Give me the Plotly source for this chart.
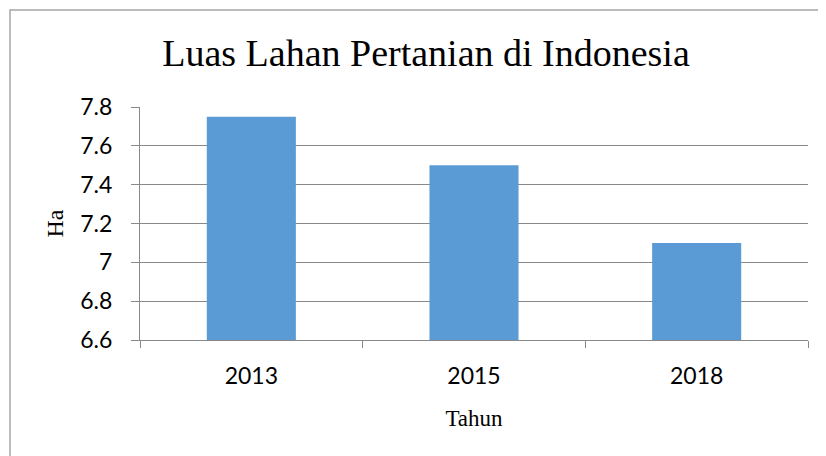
import plotly.graph_objects as go

years = ["2013", "2015", "2018"]
luas = [7.75, 7.50, 7.10]
y_ticks = [6.6, 6.8, 7.0, 7.2, 7.4, 7.6, 7.8]
y_tick_labels = ["6.6", "6.8", "7", "7.2", "7.4", "7.6", "7.8"]

W, H = 826, 456
OFF = 8  # page body offset
# target plot-area edges in screen pixels
X0, X1, Y0, Y1 = 140, 808, 107, 340
L, T = X0 - OFF, Y0 - OFF
R, B = W - (X1 - OFF), H - (Y1 - OFF)
pw, ph = X1 - X0, Y1 - Y0

def px_x(p):
    return (p - X0) / pw

def px_y(p):
    return (Y1 - p) / ph

fig = go.Figure(go.Bar(x=years, y=luas, marker=dict(color="#5B9BD5", line=dict(width=0)),
                       width=0.4))

serif = "Liberation Serif, Times New Roman, serif"
sans = "Lato, Open Sans, sans-serif"

fig.update_layout(
    width=W, height=H,
    margin=dict(l=L, r=R, t=T, b=B),
    paper_bgcolor="white", plot_bgcolor="white",
    showlegend=False,
    title=dict(text="Luas Lahan Pertanian di Indonesia", font=dict(family=serif, size=38, color="black"),
               x=(426 - OFF) / W, xanchor="center", y=1 - (53 - OFF) / H, yanchor="middle"),
    xaxis=dict(
        type="category", showgrid=False, showline=True, linecolor="#898989", linewidth=1,
        ticks="outside", ticklen=7, tickcolor="#898989", tickson="boundaries",
        tickfont=dict(family=sans, size=23, color="black"), ticklabelstandoff=15,
        title=dict(text="Tahun", font=dict(family=serif, size=23, color="black"), standoff=22),
        range=[-0.5, 2.5],
    ),
    yaxis=dict(
        range=[6.6, 7.8], tickvals=y_ticks, ticktext=y_tick_labels,
        showgrid=True, gridcolor="#898989", gridwidth=1,
        showline=True, linecolor="#898989", linewidth=1,
        ticks="outside", ticklen=8, tickcolor="#898989",
        tickfont=dict(family=sans, size=23, color="black"), ticklabelstandoff=14,
        title=dict(text="Ha", font=dict(family=serif, size=24, color="black"), standoff=9),
        zeroline=False,
    ),
    shapes=[dict(type="rect", xref="paper", yref="paper",
                 x0=px_x(10), x1=px_x(840), y0=px_y(470), y1=px_y(10),
                 line=dict(color="#A6A6A6", width=1.5), fillcolor="rgba(0,0,0,0)", layer="below")],
)

fig.write_html("out.html")
